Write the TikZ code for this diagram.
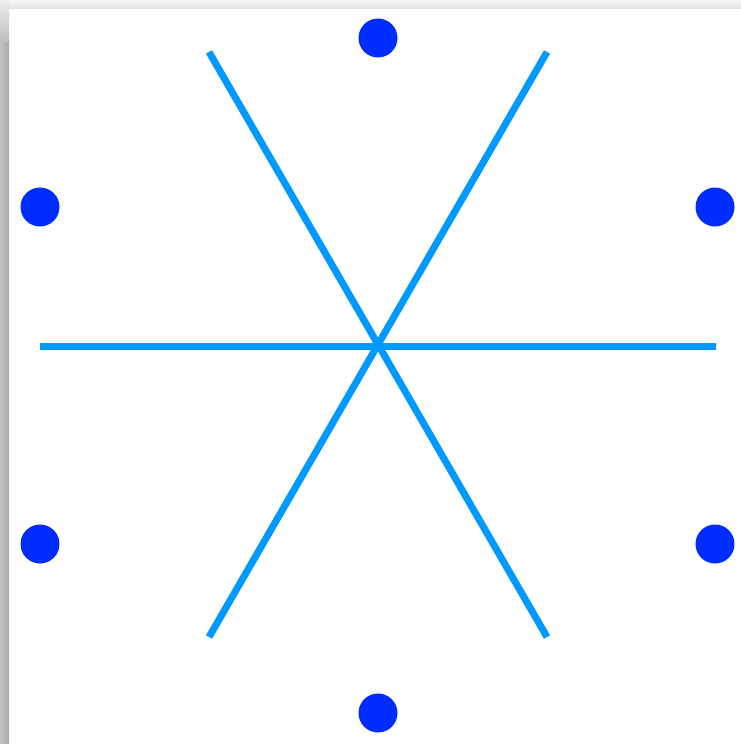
\documentclass[tikz,border=0pt]{standalone}
\usetikzlibrary{calc}
\definecolor{spoke}{RGB}{0,153,255}
\definecolor{dotblue}{RGB}{0,45,255}
\tikzset{
  spokeline/.style={draw=spoke, line width=7pt, line cap=butt},
  dotnode/.style={circle, fill=dotblue, draw=none, inner sep=0pt, minimum size=39pt}
}
\begin{document}
\begin{tikzpicture}[x=1pt,y=-1pt]
\useasboundingbox (0,0) rectangle (741,744);
\fill[white] (0,0) rectangle (741,744);
% shadow strips
\shade[left color=gray!48, right color=gray!66] (0,40) rectangle (9,744);
\shade[top color=gray!6, bottom color=gray!22] (9,0) rectangle (741,8);
\shade[top color=gray!14, bottom color=gray!50] (0,0) rectangle (9,40);
% spoke end points
\coordinate (c) at (378,346);
\coordinate (l) at (40,346);
\coordinate (r) at (716,346);
\coordinate (tl) at (209,52);
\coordinate (tr) at (547,52);
\coordinate (bl) at (209,637);
\coordinate (br) at (547,637);
\draw[spokeline] (l) -- (r);
\draw[spokeline] (tl) -- (br);
\draw[spokeline] (tr) -- (bl);
% dots
\node[dotnode] (dtop) at (378,38) {};
\node[dotnode] (dbot) at (378,713) {};
\node[dotnode] (dlt) at (40,207) {};
\node[dotnode] (drt) at (715,207) {};
\node[dotnode] (dlb) at (40,544) {};
\node[dotnode] (drb) at (715,544) {};
\end{tikzpicture}
\end{document}
